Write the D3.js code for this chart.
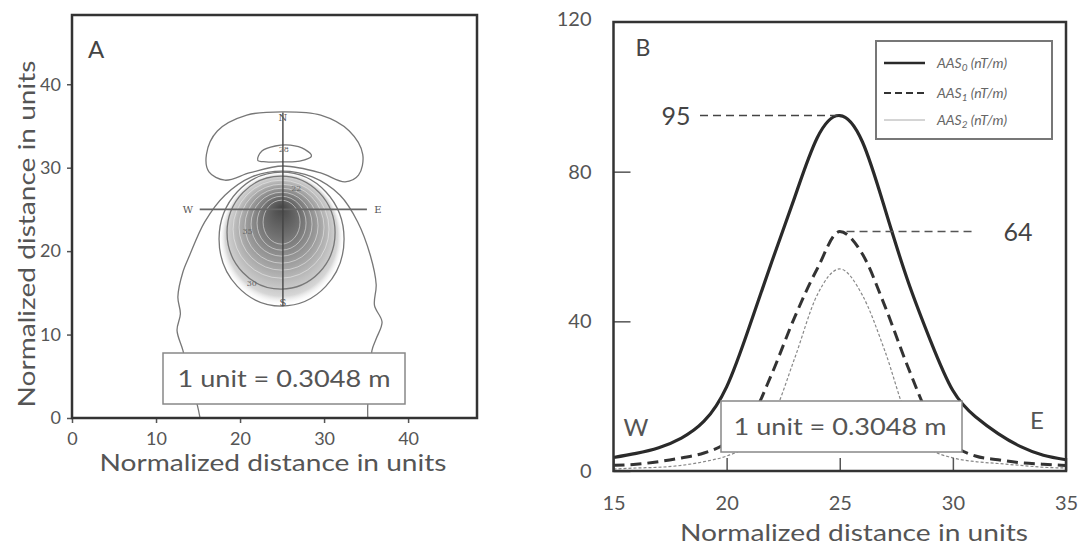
<!DOCTYPE html>
<meta charset="utf-8">
<style>
body { margin: 0; background: #fff; }
svg text { font-family: Lato, "Open Sans", sans-serif; fill: #555; }
.axis path.domain { display: none; }
.axis line { stroke: #555; stroke-width: 1.5px; }
</style>
<svg width="1086" height="545"></svg>
<script src="https://cdn.jsdelivr.net/npm/d3@7"></script>
<script>
// ---- panel B: profile along W-E line ----
var profileX = [15, 16, 17, 18, 19, 20, 21, 22, 23, 24, 25, 26, 27, 28, 29, 30, 31, 32, 33, 34, 35];
var aas0 = [3.6, 4.7, 6.2, 8.8, 13.3, 22.5, 38.5, 56, 73, 89, 95, 88, 70, 51, 35, 21.5, 14.5, 10, 6.5, 4.2, 3];
var aas1 = [1.5, 1.8, 2.5, 3.5, 4.8, 7.5, 13, 26, 41, 54, 64, 58, 44, 28, 14, 7, 4, 3, 2.2, 1.8, 1.5];
var aas2 = [0.5, 0.8, 1, 1.5, 2.5, 4, 7, 14, 30, 47, 54, 47, 32, 14, 6, 3.5, 2.5, 2, 1.5, 1, 0.8];
var seriesSub = ["0", "1", "2"];
var xTicksB = [15, 20, 25, 30, 35];
var yTicksB = [0, 40, 80, 120];
var peakValues = [95, 64];

// ---- panel A: contour map (units) ----
var ticksA = [0, 10, 20, 30, 40];
var outerArch = [[15.24,0],[14.9,1.6],[13.9,5],[13.2,8.1],[12.5,10.5],[12.9,12.5],[12.6,14.5],[13.2,17.5],[14.0,19.5],
  [15.8,23.5],[18.2,26.7],[21.4,28.9],[25.0,29.6],[28.6,28.9],[31.9,26.7],[34.0,23.5],[35.5,19.5],[36.2,16],
  [36.0,13.5],[36.9,11.5],[36.2,9.5],[35.7,8.1],[35.5,5],[35.2,1.6],[35.2,0]];
var northLobe = [[25.1,36.7],[29.6,36.3],[33.0,34.4],[34.6,31.6],[34.1,29.1],[32.5,28.3],[29.5,29.4],[25.1,30.2],
  [21.2,29.4],[18.2,28.5],[16.3,29.5],[16.0,31.6],[17.3,34.4],[20.8,36.3]];
var innerLobe = [[22.1,30.9],[22.6,32.0],[24.2,32.6],[26.0,32.7],[27.7,32.2],[28.5,31.4],[27.1,30.8],[25.2,30.7],[23.1,30.7]];
var ringCx = [24.94, 24.88, 24.88, 24.94, 24.94, 24.94, 24.94, 24.94];
var ringCy = [21.44, 22.22, 22.63, 22.87, 23.05, 23.23, 23.35, 23.47];
var ringRx = [7.44, 6.43, 5.71, 5.06, 4.35, 3.63, 2.92, 2.2];
var ringRy = [8.02, 6.77, 5.87, 5.15, 4.49, 3.83, 3.23, 2.63];
var contourLabels = [["28", 25.2, 32.2], ["22", 26.7, 27.6], ["35", 20.9, 22.4], ["30", 21.4, 16.2]];
var weLine = [[15.2, 25.0], [35.1, 25.0]];
var nsLine = [[25.1, 36.6], [25.1, 13.4]];

var svg = d3.select("svg");

// ================= PANEL A =================
var xA = d3.scaleLinear().domain([0, 48.2]).range([72, 477]);
var yA = d3.scaleLinear().domain([0, 48.3]).range([418, 15]);
var gA = svg.append("g");

var defs = svg.append("defs");
var grad = defs.append("radialGradient").attr("id", "shade")
  .attr("cx", "50%").attr("cy", "50%").attr("r", "50%").attr("fx", "50%").attr("fy", "26%");
grad.append("stop").attr("offset", "0").attr("stop-color", "#474747");
grad.append("stop").attr("offset", "0.3").attr("stop-color", "#707070");
grad.append("stop").attr("offset", "0.65").attr("stop-color", "#aaa");
grad.append("stop").attr("offset", "0.9").attr("stop-color", "#d6d6d6");
grad.append("stop").attr("offset", "1").attr("stop-color", "#fff").attr("stop-opacity", 0);

var lineA = d3.line().x(function(d) { return xA(d[0]); }).y(function(d) { return yA(d[1]); });

// shading inside the main rings
gA.append("ellipse")
  .attr("cx", xA(ringCx[0])).attr("cy", yA(ringCy[0]))
  .attr("rx", xA(ringRx[0]) - xA(0)).attr("ry", yA(0) - yA(ringRy[0]))
  .attr("fill", "url(#shade)");

gA.append("path").datum(outerArch)
  .attr("d", lineA.curve(d3.curveCatmullRom))
  .attr("fill", "none").attr("stroke", "#777").attr("stroke-width", 1.3);
gA.append("path").datum(northLobe)
  .attr("d", lineA.curve(d3.curveCatmullRomClosed))
  .attr("fill", "none").attr("stroke", "#777").attr("stroke-width", 1.3);
gA.append("path").datum(innerLobe)
  .attr("d", lineA.curve(d3.curveCatmullRomClosed))
  .attr("fill", "none").attr("stroke", "#777").attr("stroke-width", 1.3);

gA.selectAll("ellipse.ring").data(ringCx).enter().append("ellipse")
  .attr("class", "ring")
  .attr("cx", function(d) { return xA(d); })
  .attr("cy", function(d, i) { return yA(ringCy[i]); })
  .attr("rx", function(d, i) { return xA(ringRx[i]) - xA(0); })
  .attr("ry", function(d, i) { return yA(0) - yA(ringRy[i]); })
  .attr("fill", "none")
  .attr("stroke", function(d, i) { return i < 2 ? "#777" : "#eee"; })
  .attr("stroke-opacity", function(d, i) { return i < 2 ? 1 : 0.55; })
  .attr("stroke-width", function(d, i) { return i < 2 ? 1.3 : 1; });

gA.append("path").datum(weLine).attr("d", lineA.curve(d3.curveLinear))
  .attr("stroke", "#666").attr("stroke-width", 1.6);
gA.append("path").datum(nsLine).attr("d", lineA.curve(d3.curveLinear))
  .attr("stroke", "#444").attr("stroke-width", 1.4);

gA.selectAll("text.cl").data(contourLabels).enter().append("text")
  .attr("x", function(d) { return xA(d[1]); }).attr("y", function(d) { return yA(d[2]); })
  .attr("text-anchor", "middle").attr("dy", "0.35em")
  .style("font-family", "'DejaVu Serif', serif").style("font-size", "8px").style("fill", "#666")
  .text(function(d) { return d[0]; });

var compass = [["N", nsLine[0][0], nsLine[0][1] - 0.6], ["S", nsLine[1][0], nsLine[1][1] + 0.4],
               ["W", weLine[0][0] - 1.4, weLine[0][1]], ["E", weLine[1][0] + 1.3, weLine[1][1]]];
gA.selectAll("text.cp").data(compass).enter().append("text")
  .attr("x", function(d) { return xA(d[1]); }).attr("y", function(d) { return yA(d[2]); })
  .attr("text-anchor", "middle").attr("dy", "0.35em")
  .style("font-family", "'DejaVu Serif', serif").style("font-size", "10px").style("fill", "#555")
  .text(function(d) { return d[0]; });

// scale box A
gA.append("rect").attr("x", 163).attr("y", 353).attr("width", 242).attr("height", 51)
  .attr("fill", "#fff").attr("stroke", "#888").attr("stroke-width", 1.5);
gA.append("text").attr("x", 284).attr("y", 387).attr("text-anchor", "middle")
  .attr("textLength", 213).attr("lengthAdjust", "spacingAndGlyphs")
  .style("font-size", "23px").text("1 unit = 0.3048 m");

// axes A
gA.append("g").attr("class", "axis").attr("transform", "translate(0," + yA(0) + ")")
  .call(d3.axisBottom(xA).tickValues(ticksA).tickSize(5).tickPadding(9))
  .selectAll("text").style("font-size", "18px").style("fill", "#555");
gA.append("g").attr("class", "axis").attr("transform", "translate(" + xA(0) + ",0)")
  .call(d3.axisLeft(yA).tickValues(ticksA).tickSize(5).tickPadding(6))
  .selectAll("text").style("font-size", "18px").style("fill", "#555");

gA.append("rect").attr("x", xA(0)).attr("y", yA(48.3)).attr("width", xA(48.2) - xA(0)).attr("height", yA(0) - yA(48.3))
  .attr("fill", "none").attr("stroke", "#333").attr("stroke-width", 2.5);

gA.append("text").attr("x", 96).attr("y", 58).attr("text-anchor", "middle")
  .style("font-size", "24px").style("fill", "#444").text("A");

gA.append("text").attr("x", 273).attr("y", 471).attr("text-anchor", "middle")
  .attr("textLength", 347).attr("lengthAdjust", "spacingAndGlyphs")
  .style("font-size", "23px").text("Normalized distance in units");
gA.append("text").attr("transform", "translate(35,234) rotate(-90)").attr("text-anchor", "middle")
  .attr("textLength", 347).attr("lengthAdjust", "spacingAndGlyphs")
  .style("font-size", "23px").text("Normalized distance in units");

// ================= PANEL B =================
var xB = d3.scaleLinear().domain([15, 35]).range([613.5, 1066]);
var yB = d3.scaleLinear().domain([0, 120]).range([471, 22]);
var gB = svg.append("g");

defs.append("clipPath").attr("id", "clipB").append("rect")
  .attr("x", xB(15)).attr("y", yB(120)).attr("width", xB(35) - xB(15)).attr("height", yB(0) - yB(120));

function profileLine(curve) {
  return d3.line()
    .x(function(d, i) { return xB(profileX[i]); })
    .y(function(d) { return yB(d); })
    .curve(curve);
}

var curves = gB.append("g").attr("clip-path", "url(#clipB)");
curves.append("path").datum(aas2).attr("d", profileLine(d3.curveMonotoneX))
  .attr("fill", "none").attr("stroke", "#888").attr("stroke-width", 1.2).attr("stroke-dasharray", "3,2");
curves.append("path").datum(aas1).attr("d", profileLine(d3.curveMonotoneX))
  .attr("fill", "none").attr("stroke", "#333").attr("stroke-width", 3).attr("stroke-dasharray", "11,6");
curves.append("path").datum(aas0).attr("d", profileLine(d3.curveNatural))
  .attr("fill", "none").attr("stroke", "#2a2a2a").attr("stroke-width", 3.2);

// peak annotations
gB.append("line").attr("x1", 700).attr("x2", xB(24.9)).attr("y1", yB(peakValues[0])).attr("y2", yB(peakValues[0]))
  .attr("stroke", "#444").attr("stroke-width", 1.6).attr("stroke-dasharray", "8,5");
gB.append("text").attr("x", 676).attr("y", yB(peakValues[0]) + 9).attr("text-anchor", "middle")
  .style("font-size", "25px").style("fill", "#444").text(peakValues[0]);
gB.append("line").attr("x1", xB(25.3)).attr("x2", 974).attr("y1", yB(peakValues[1])).attr("y2", yB(peakValues[1]))
  .attr("stroke", "#555").attr("stroke-width", 1.6).attr("stroke-dasharray", "8,5");
gB.append("text").attr("x", 1018).attr("y", yB(peakValues[1]) + 9).attr("text-anchor", "middle")
  .style("font-size", "25px").style("fill", "#444").text(peakValues[1]);

// scale box B
gB.append("rect").attr("x", 721).attr("y", 401).attr("width", 241).attr("height", 51)
  .attr("fill", "#fff").attr("stroke", "#888").attr("stroke-width", 1.5);
gB.append("text").attr("x", 840).attr("y", 435).attr("text-anchor", "middle")
  .attr("textLength", 213).attr("lengthAdjust", "spacingAndGlyphs")
  .style("font-size", "23px").text("1 unit = 0.3048 m");

gB.append("text").attr("x", 636).attr("y", 436).attr("text-anchor", "middle")
  .style("font-size", "24px").text("W");
gB.append("text").attr("x", 1037).attr("y", 429).attr("text-anchor", "middle")
  .style("font-size", "24px").text("E");

// axes B (inward ticks, none at the top edge)
gB.append("g").attr("class", "axis").attr("transform", "translate(0," + yB(0) + ")")
  .call(d3.axisBottom(xB).tickValues(xTicksB).tickSize(-13).tickPadding(25))
  .selectAll("text").style("font-size", "20px").style("fill", "#555");
var yAxB = gB.append("g").attr("class", "axis").attr("transform", "translate(" + xB(15) + ",0)")
  .call(d3.axisLeft(yB).tickValues(yTicksB).tickSize(-17).tickPadding(22));
yAxB.selectAll("text").style("font-size", "20px").style("fill", "#555");
yAxB.selectAll(".tick").filter(function(d) { return d === 120; }).select("text").attr("dy", "0.15em");
yAxB.selectAll(".tick").filter(function(d) { return d === 120; }).select("line").remove();

gB.append("rect").attr("x", xB(15)).attr("y", yB(120)).attr("width", xB(35) - xB(15)).attr("height", yB(0) - yB(120))
  .attr("fill", "none").attr("stroke", "#333").attr("stroke-width", 2.5);

gB.append("text").attr("x", 643).attr("y", 56).attr("text-anchor", "middle")
  .style("font-size", "23px").style("fill", "#444").text("B");

gB.append("text").attr("x", 854).attr("y", 541).attr("text-anchor", "middle")
  .attr("textLength", 348).attr("lengthAdjust", "spacingAndGlyphs")
  .style("font-size", "24px").text("Normalized distance in units");

// legend
var legend = gB.append("g");
legend.append("rect").attr("x", 876).attr("y", 41).attr("width", 176).attr("height", 98)
  .attr("fill", "#fff").attr("stroke", "#777").attr("stroke-width", 2);
var legStyles = [
  { stroke: "#2a2a2a", width: 2.6, dash: null },
  { stroke: "#333", width: 2.2, dash: "7,4" },
  { stroke: "#aaa", width: 1, dash: null }
];
var legY = [63, 93, 120];
seriesSub.forEach(function(s, i) {
  legend.append("line").attr("x1", 884).attr("x2", 925).attr("y1", legY[i]).attr("y2", legY[i])
    .attr("stroke", legStyles[i].stroke).attr("stroke-width", legStyles[i].width)
    .attr("stroke-dasharray", legStyles[i].dash);
  var t = legend.append("text").attr("x", 937).attr("y", legY[i] + 5)
    .style("font-size", "14px").style("font-style", "italic").style("fill", "#666");
  t.append("tspan").text("AAS");
  t.append("tspan").attr("dy", 3).style("font-size", "10px").text(s);
  t.append("tspan").attr("dy", -3).text(" (nT/m)");
});
</script>
